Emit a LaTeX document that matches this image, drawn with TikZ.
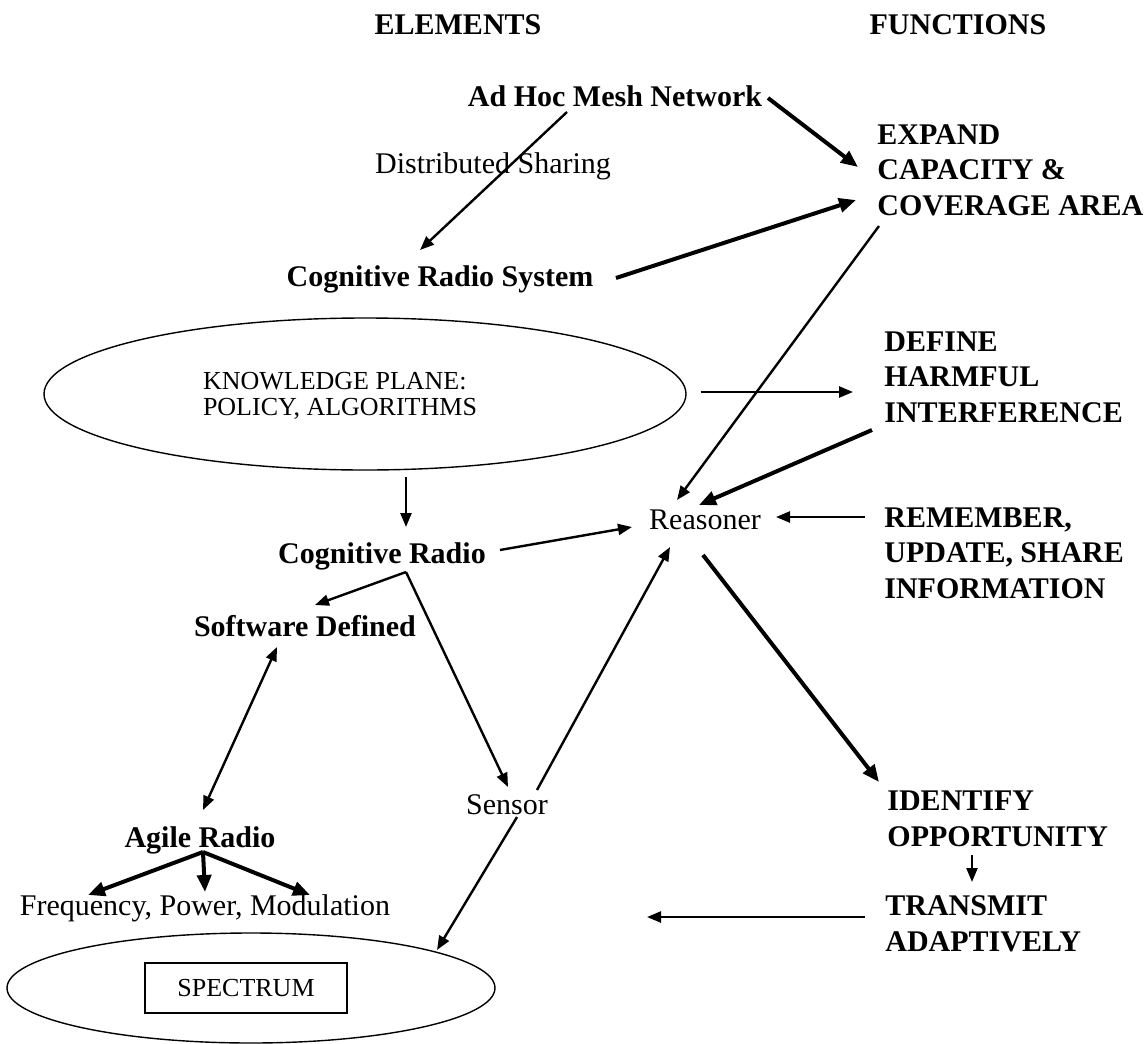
\documentclass[tikz,border=0pt]{standalone}
\usepackage{fontspec}
\setmainfont{Liberation Serif}
\usetikzlibrary{shapes.geometric, arrows.meta, calc}
\tikzset{
  elemnode/.style={inner sep=0pt, font=\bfseries\fontsize{15}{17.75}\selectfont},
  textnode/.style={inner sep=0pt, font=\fontsize{15}{17.75}\selectfont},
  funcnode/.style={elemnode, anchor=west, align=left},
  capsnode/.style={inner sep=0pt, align=left, font=\fontsize{13}{13}\selectfont},
  planenode/.style={ellipse, draw=black, line width=0.7pt, inner sep=0pt},
  boxnode/.style={
    rectangle, draw=black, line width=0.7pt, inner sep=0pt,
    minimum width=101pt, minimum height=25pt,
    font=\fontsize{13}{15}\selectfont
  },
  arrow/.style={-{Triangle[length=7pt, width=5.5pt]}, line width=1.2pt, black},
  heavyarrow/.style={-{Triangle[length=8.5pt, width=7pt]}, line width=2pt, black},
  botharrow/.style={{Triangle[length=7pt, width=5.5pt]}-{Triangle[length=7pt, width=5.5pt]}, line width=1.2pt, black}
}

\begin{document}
\begin{tikzpicture}[x=0.5pt, y=-0.5pt]
  \useasboundingbox (0,0) rectangle (1146,1044);

  % Column headings
  \node[elemnode] (elements) at (458,25) {ELEMENTS};
  \node[elemnode] (functions) at (958,25) {FUNCTIONS};

  % Elements column
  \node[elemnode] (adhoc) at (615,96) {Ad Hoc Mesh Network};
  \node[textnode] (dshare) at (493,166) {Distributed Sharing};
  \node[elemnode] (crsys) at (440,279) {Cognitive Radio System};
  \node[planenode, minimum width=321pt, minimum height=76pt] (kp) at (365,394) {};
  \node[capsnode] (kptext) at (340,396) {KNOWLEDGE PLANE:\\POLICY, ALGORITHMS};
  \node[textnode] (reasoner) at (705,520) {Reasoner};
  \node[elemnode] (cr) at (382,556) {Cognitive Radio};
  \node[elemnode] (sdef) at (305,626) {Software Defined};
  \node[textnode] (sensor) at (507,805) {Sensor};
  \node[elemnode] (agile) at (200,840) {Agile Radio};
  \node[textnode] (freq) at (205,908) {Frequency, Power, Modulation};
  \node[planenode, minimum width=244pt, minimum height=55pt] (spec) at (251,988) {};
  \node[boxnode] (specbox) at (246,988) {SPECTRUM};

  % Functions column
  \node[funcnode] (expand) at (877,170) {EXPAND\\CAPACITY \&\\COVERAGE AREA};
  \node[funcnode] (define) at (884,377) {DEFINE\\HARMFUL\\INTERFERENCE};
  \node[funcnode] (remember) at (884,553) {REMEMBER,\\UPDATE, SHARE\\INFORMATION};
  \node[funcnode] (identify) at (887,819) {IDENTIFY\\OPPORTUNITY};
  \node[funcnode] (transmit) at (885,924) {TRANSMIT\\ADAPTIVELY};

  % Fork points
  \coordinate (crfork) at ($(cr)+(24,16)$);
  \coordinate (agilefork) at ($(agile)+(3,12)$);

  % Upper connectors
  \draw[heavyarrow] ($(adhoc)+(153,2)$) -- ($(expand.west)+(-19,-3)$);
  \draw[arrow] ($(adhoc)+(-48,16)$) -- ($(crsys)+(-20,-29)$);
  \draw[heavyarrow] ($(crsys)+(176,-1)$) -- ($(expand.west)+(-21,30)$);
  \draw[arrow] ($(expand.west)+(2,56)$) -- ($(reasoner)+(-28,-20)$);
  \draw[arrow] ($(kp.east)+(14,-2)$) -- ($(define.west)+(-31,15)$);
  \draw[heavyarrow] ($(define.west)+(-12,53)$) -- ($(reasoner)+(-6,-15)$);
  \draw[arrow] ($(remember.west)+(-19,-36)$) -- ($(reasoner)+(71,-3)$);

  % Middle connectors
  \draw[arrow] ($(kp.south)+(41,6)$) -- ($(cr)+(24,-29)$);
  \draw[arrow] ($(cr)+(118,-6)$) -- ($(reasoner)+(-73,7)$);
  \draw[arrow] (crfork) -- ($(sdef)+(10,-21)$);
  \draw[arrow] (crfork) -- ($(sensor)+(1,-18)$);
  \draw[botharrow] ($(sdef)+(-28,21)$) -- ($(agile)+(3,-30)$);
  \draw[arrow] ($(sensor)+(30,-15)$) -- ($(reasoner)+(-35,27)$);
  \draw[heavyarrow] ($(reasoner)+(-2,35)$) -- ($(identify.west)+(-8,-37)$);

  % Lower connectors
  \draw[arrow] ($(sensor)+(10,12)$) -- ($(spec)+(186,-38)$);
  \draw[arrow] ($(identify.west)+(85,36)$) -- ($(transmit.west)+(87,-42)$);
  \draw[arrow] ($(transmit.west)+(-20,-7)$) -- ($(transmit.west)+(-238,-7)$);
  \draw[heavyarrow] (agilefork) -- ($(freq)+(-117,-13)$);
  \draw[heavyarrow] (agilefork) -- ($(freq)+(0,-16)$);
  \draw[heavyarrow] (agilefork) -- ($(freq)+(105,-13)$);
\end{tikzpicture}
\end{document}
